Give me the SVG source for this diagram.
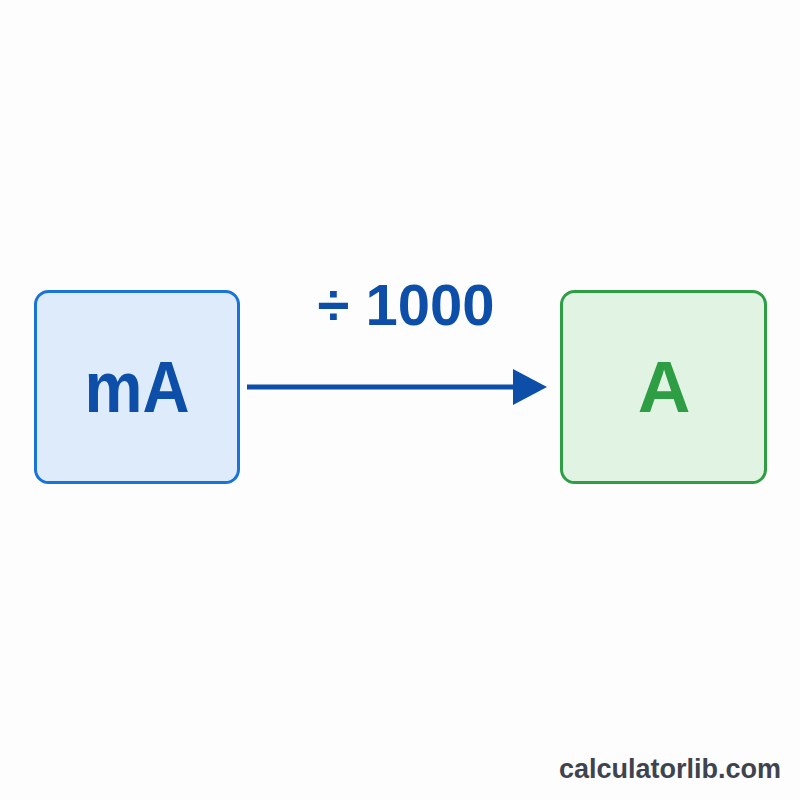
<svg xmlns="http://www.w3.org/2000/svg" width="800" height="800" viewBox="0 0 800 800">
<style>
.lbl{font-family:"Liberation Sans",Arial,sans-serif;font-weight:bold;text-anchor:middle}
</style>
<defs>
<marker id="ah" markerWidth="34" markerHeight="36" refX="7" refY="18" orient="auto" markerUnits="userSpaceOnUse">
<path d="M0,0 L34,18 L0,36 Z" fill="#0d4fa8"/>
</marker>
</defs>
<rect width="800" height="800" fill="#fdfdfd"/>
<g id="node-mA">
<rect x="35.5" y="291.5" width="203" height="191" rx="13" fill="#ddebfb" stroke="#1a73d6" stroke-width="3"/>
<text class="lbl" x="137" y="412" font-size="73" fill="#0d4fa8" textLength="105" lengthAdjust="spacingAndGlyphs">mA</text>
</g>
<g id="node-A">
<rect x="561.5" y="291.5" width="204" height="191" rx="13" fill="#e1f3e2" stroke="#2e9e44" stroke-width="3"/>
<text class="lbl" x="664" y="412" font-size="73" fill="#2e9e44">A</text>
</g>
<g id="connectors">
<line x1="247" y1="387" x2="520" y2="387" stroke="#0d4fa8" stroke-width="5" marker-end="url(#ah)"/>
<text class="lbl" x="406" y="325" font-size="58" fill="#0d4fa8">÷ 1000</text>
</g>
<text x="781" y="778" font-family="'Liberation Sans',Arial,sans-serif" font-weight="bold" font-size="27" fill="#3d4450" text-anchor="end">calculatorlib.com</text>
</svg>
